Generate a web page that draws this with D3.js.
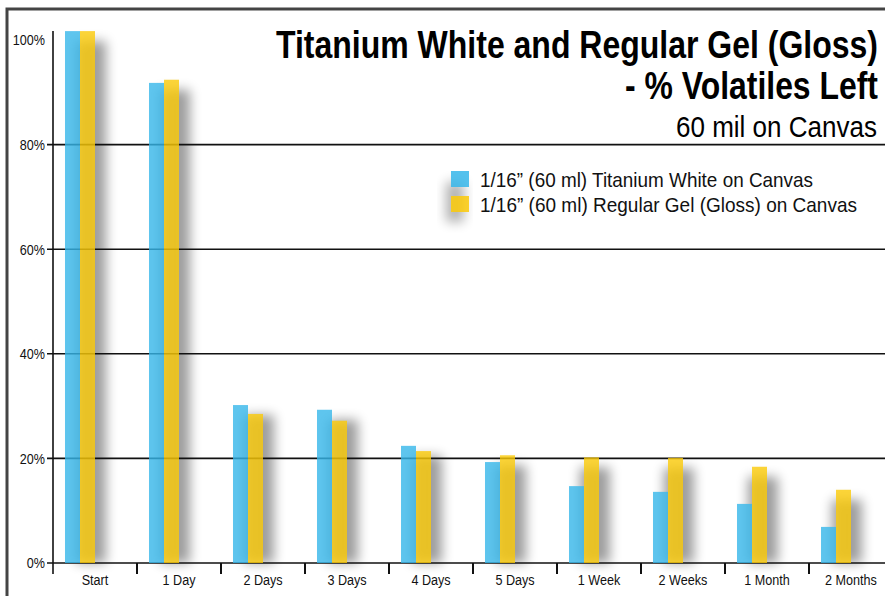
<!DOCTYPE html>
<html>
<head>
<meta charset="utf-8">
<script src="https://cdn.jsdelivr.net/npm/d3@7"></script>
<style>
  body { margin: 0; background: #fff; }
  svg { display: block; font-family: "Liberation Sans", Arial, sans-serif; }
</style>
</head>
<body>
<svg id="chart" width="885" height="596"></svg>
<script>
var categories = ["Start", "1 Day", "2 Days", "3 Days", "4 Days", "5 Days", "1 Week", "2 Weeks", "1 Month", "2 Months"];
var titaniumWhite = [101.7, 91.8, 30.2, 29.3, 22.4, 19.3, 14.7, 13.6, 11.3, 6.9];
var regularGel = [101.7, 92.4, 28.5, 27.2, 21.4, 20.6, 20.2, 20.1, 18.4, 14.0];
var yTicks = [0, 20, 40, 60, 80, 100];
var gridValues = [0, 20, 40, 60, 80];
var seriesNames = ["1/16\u201D (60 ml) Titanium White on Canvas", "1/16\u201D (60 ml) Regular Gel (Gloss) on Canvas"];
var seriesColors = ["#36b6ea", "#fbca08"];

var svg = d3.select("#chart");

// squeeze text horizontally, the original uses a condensed face
function condense(sel, factor) {
    sel.each(function() {
        var w = this.getComputedTextLength();
        d3.select(this)
            .attr("textLength", w * factor)
            .attr("lengthAdjust", "spacingAndGlyphs");
    });
}

var defs = svg.append("defs");
defs.append("filter").attr("id", "blur")
    .attr("x", "-50%").attr("y", "-50%").attr("width", "200%").attr("height", "200%")
    .append("feGaussianBlur").attr("stdDeviation", 6);

var x = d3.scaleBand().domain(categories).range([53, 893]);
var y = d3.scaleLinear().domain([0, 100]).range([563, 40]);
var barW = 15, barOff = 12;

// frame
svg.append("path")
    .attr("d", "M7,600 L7,9 L890,9")
    .attr("fill", "none")
    .attr("stroke", "#444")
    .attr("stroke-width", 3);

// shadows behind bar pairs
svg.append("g").selectAll("rect")
    .data(categories)
    .enter().append("rect")
    .attr("x", function(d) { return x(d) + barOff + 11; })
    .attr("y", function(d, i) { return y(Math.max(titaniumWhite[i], regularGel[i])) + 10; })
    .attr("width", barW * 2)
    .attr("height", function(d, i) { return y(0) - y(Math.max(titaniumWhite[i], regularGel[i])) - 10; })
    .attr("fill", "#000")
    .attr("opacity", 0.38)
    .attr("filter", "url(#blur)");

// gridlines
svg.append("g").selectAll("line")
    .data(gridValues)
    .enter().append("line")
    .attr("x1", 47)
    .attr("x2", 885)
    .attr("y1", function(d) { return y(d); })
    .attr("y2", function(d) { return y(d); })
    .attr("stroke", "#111")
    .attr("stroke-width", 1.6);

// bars
var bars = svg.append("g");
bars.selectAll(".tw")
    .data(categories)
    .enter().append("rect")
    .attr("class", "tw")
    .attr("x", function(d) { return x(d) + barOff; })
    .attr("y", function(d, i) { return y(titaniumWhite[i]); })
    .attr("width", barW)
    .attr("height", function(d, i) { return y(0) - y(titaniumWhite[i]); })
    .attr("fill", seriesColors[0])
    .attr("fill-opacity", 0.8);

bars.selectAll(".rg")
    .data(categories)
    .enter().append("rect")
    .attr("class", "rg")
    .attr("x", function(d) { return x(d) + barOff + barW; })
    .attr("y", function(d, i) { return y(regularGel[i]); })
    .attr("width", barW)
    .attr("height", function(d, i) { return y(0) - y(regularGel[i]); })
    .attr("fill", seriesColors[1])
    .attr("fill-opacity", 0.8);

// y axis
svg.append("line")
    .attr("x1", 53).attr("x2", 53)
    .attr("y1", 31).attr("y2", 574)
    .attr("stroke", "#111")
    .attr("stroke-width", 1.6);

svg.append("g").selectAll("text")
    .data(yTicks)
    .enter().append("text")
    .attr("x", 45)
    .attr("y", function(d) { return y(d); })
    .attr("dy", "0.36em")
    .attr("text-anchor", "end")
    .attr("font-size", 15)
    .attr("fill", "#111")
    .text(function(d) { return d + "%"; })
    .call(condense, 0.84);

// x ticks and labels
var xAxis = svg.append("g");
xAxis.selectAll("line")
    .data(categories.slice(1))
    .enter().append("line")
    .attr("x1", function(d) { return x(d); })
    .attr("x2", function(d) { return x(d); })
    .attr("y1", 563)
    .attr("y2", 574)
    .attr("stroke", "#111")
    .attr("stroke-width", 2);

xAxis.selectAll("text")
    .data(categories)
    .enter().append("text")
    .attr("x", function(d) { return x(d) + x.bandwidth() / 2; })
    .attr("y", 585)
    .attr("text-anchor", "middle")
    .attr("font-size", 14)
    .attr("fill", "#111")
    .text(function(d) { return d; })
    .call(condense, 0.9);

// title
var title = svg.append("g").attr("text-anchor", "end");
title.append("text")
    .attr("x", 878).attr("y", 58)
    .attr("font-size", 38).attr("font-weight", "bold")
    .attr("textLength", 602).attr("lengthAdjust", "spacingAndGlyphs")
    .text("Titanium White and Regular Gel (Gloss)");
title.append("text")
    .attr("x", 878).attr("y", 99)
    .attr("font-size", 38).attr("font-weight", "bold")
    .attr("textLength", 253).attr("lengthAdjust", "spacingAndGlyphs")
    .text("- % Volatiles Left");
title.append("text")
    .attr("x", 877).attr("y", 137)
    .attr("font-size", 30)
    .attr("textLength", 201).attr("lengthAdjust", "spacingAndGlyphs")
    .text("60 mil on Canvas");

// legend
var legend = svg.append("g");
legend.append("rect")
    .attr("x", 446).attr("y", 182)
    .attr("width", 18).attr("height", 40)
    .attr("fill", "#000").attr("opacity", 0.3)
    .attr("filter", "url(#blur)");
var items = legend.selectAll("g.item")
    .data(seriesNames)
    .enter().append("g")
    .attr("class", "item")
    .attr("transform", function(d, i) { return "translate(451," + (171 + i * 25) + ")"; });
items.append("rect")
    .attr("width", 18).attr("height", 16)
    .attr("fill", function(d, i) { return seriesColors[i]; })
    .attr("fill-opacity", 0.85);
items.append("text")
    .attr("x", 29).attr("y", 16)
    .attr("font-size", 21)
    .attr("fill", "#111")
    .attr("textLength", function(d, i) { return i === 0 ? 333 : 377; })
    .attr("lengthAdjust", "spacingAndGlyphs")
    .text(function(d) { return d; });
</script>
</body>
</html>
